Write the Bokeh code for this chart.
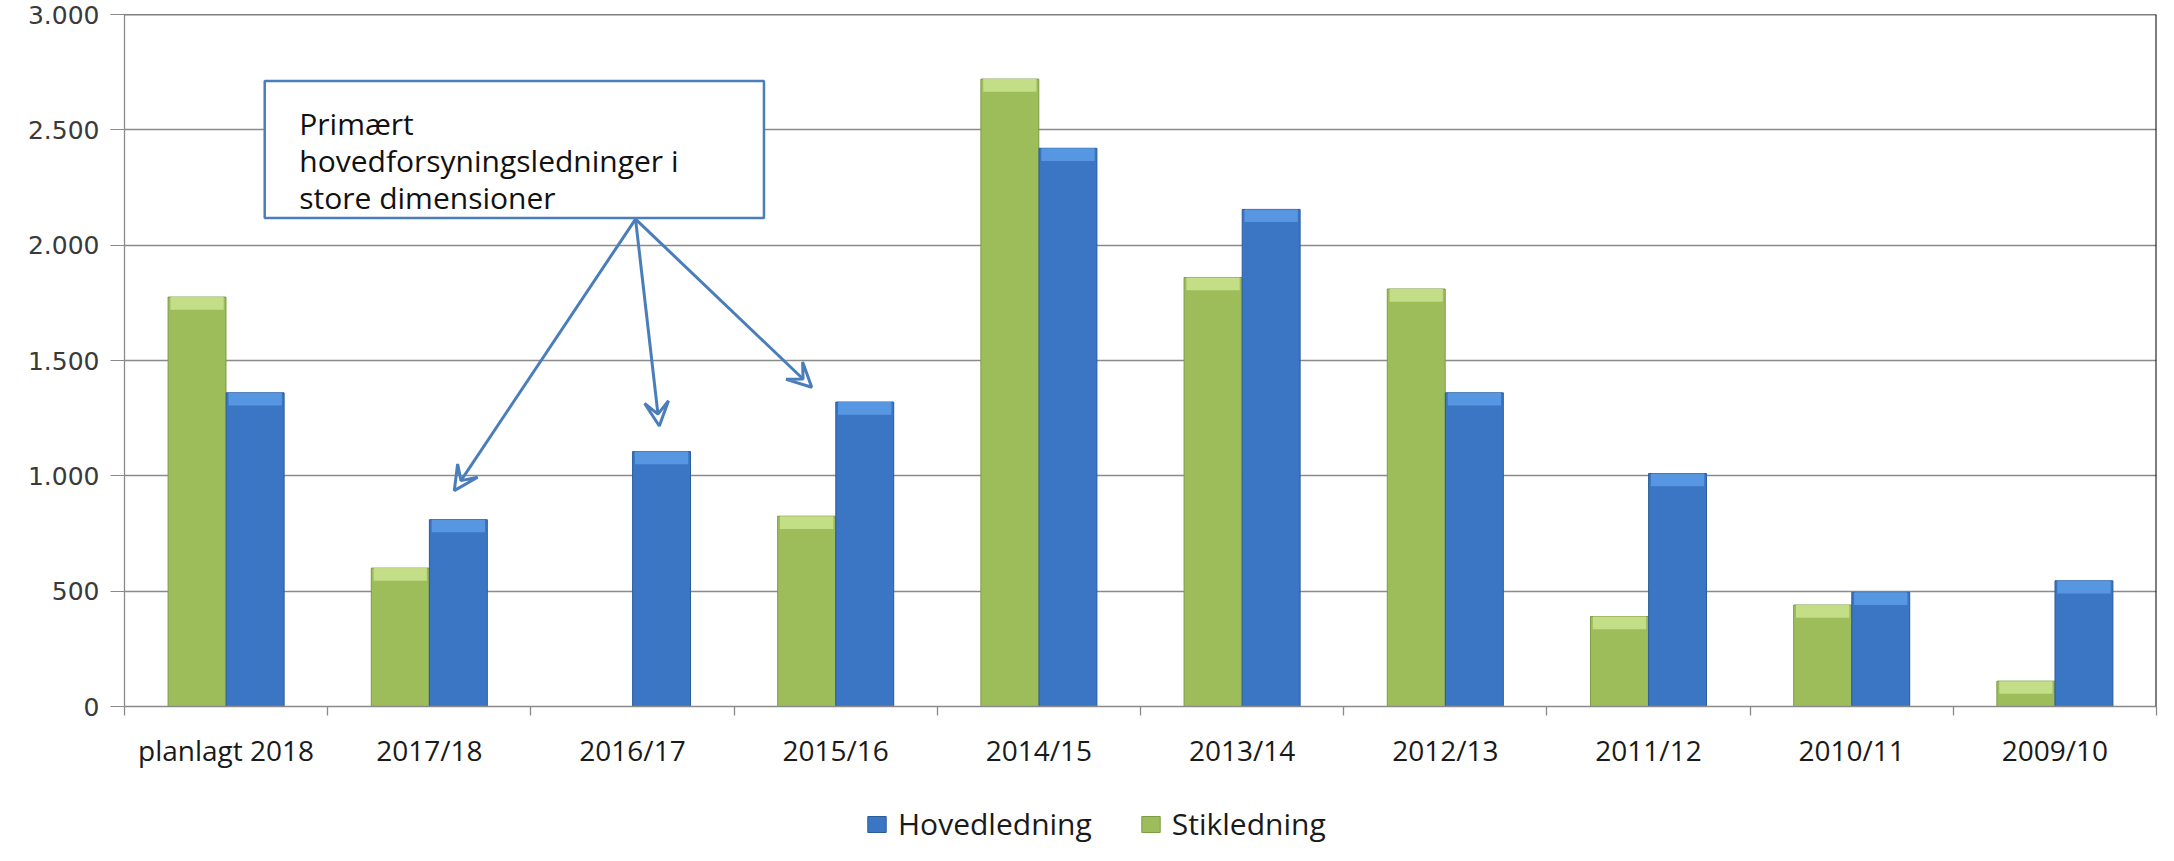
from bokeh.plotting import figure
from bokeh.layouts import column
from bokeh.models import (Range1d, FixedTicker, CustomJSTickFormatter, BoxAnnotation,
                          Label, Arrow, VeeHead, Span, Legend, LegendItem, ColumnDataSource)
from bokeh.embed import file_html
from bokeh.resources import INLINE

categories = ["planlagt 2018", "2017/18", "2016/17", "2015/16", "2014/15",
              "2013/14", "2012/13", "2011/12", "2010/11", "2009/10"]
hovedledning = [1360, 810, 1105, 1320, 2420, 2155, 1360, 1010, 495, 545]
stikledning = [1775, 600, 0, 825, 2720, 1860, 1810, 390, 440, 110]
y_ticks = [0, 500, 1000, 1500, 2000, 2500, 3000]
note_lines = ["Primært", "hovedforsyningsledninger  i", "store dimensioner"]
series_names = ["Hovedledning", "Stikledning"]

BLUE = "#3a76c4"
BLUE_TOP = "#5b9be6"
BLUE_EDGE = "#2b5b98"
GREEN = "#9dbd5b"
GREEN_TOP = "#c9e08c"
GREEN_EDGE = "#7d9a45"
NOTE_BLUE = "#4a7ebb"
GRID = "#8a8a8a"
FONT = "Open Sans"

W = 2158
H_MAIN = 792
H_LEG = 845 - H_MAIN

p = figure(width=W, height=H_MAIN, x_range=Range1d(0, 10), y_range=Range1d(0, 3000),
           output_backend="svg", toolbar_location=None,
           min_border_left=124, min_border_right=2, min_border_top=14,
           min_border_bottom=H_MAIN - 706)
p.outline_line_color = None
p.background_fill_color = "white"
p.border_fill_color = "white"

# bars
bevel = 55
def bar_source(vals, offset):
    xs, tops, bevel_bottoms = [], [], []
    for i, v in enumerate(vals):
        if v > 0:
            xs.append(i + 0.5 + offset)
            tops.append(v)
            bevel_bottoms.append(max(v - bevel, 0))
    return ColumnDataSource(dict(x=xs, top=tops, bb=bevel_bottoms))

w = 0.285
src_g = bar_source(stikledning, -0.143)
src_b = bar_source(hovedledning, 0.143)
p.vbar(x="x", top="top", bottom=0, width=w, source=src_g,
       fill_color=GREEN, line_color=GREEN_EDGE, line_width=1)
p.vbar(x="x", top="top", bottom="bb", width=w * 0.92, source=src_g,
       fill_color=GREEN_TOP, line_color=None, fill_alpha=0.9)
p.vbar(x="x", top="top", bottom=0, width=w, source=src_b,
       fill_color=BLUE, line_color=BLUE_EDGE, line_width=1)
p.vbar(x="x", top="top", bottom="bb", width=w * 0.92, source=src_b,
       fill_color=BLUE_TOP, line_color=None, fill_alpha=0.9)

# x axis
xax = p.xaxis[0]
xax.ticker = FixedTicker(ticks=[i + 0.5 for i in range(len(categories))],
                         minor_ticks=list(range(len(categories) + 1)))
xax.formatter = CustomJSTickFormatter(args=dict(labels=categories),
                                      code="return labels[Math.floor(tick)] || '';")
xax.major_tick_out = 0
xax.major_tick_in = 0
xax.major_tick_line_color = None
xax.minor_tick_out = 9
xax.minor_tick_in = 0
xax.minor_tick_line_color = GRID
xax.minor_tick_line_width = 1.3
xax.axis_line_color = GRID
xax.axis_line_width = 1.3
xax.major_label_text_font = FONT
xax.major_label_text_font_size = "28px"
xax.major_label_text_color = "#1a1a1a"
xax.major_label_standoff = 15

# y axis
yax = p.yaxis[0]
yax.ticker = FixedTicker(ticks=y_ticks)
yax.formatter = CustomJSTickFormatter(code="""
  if (tick >= 1000) { return Math.floor(tick/1000) + '.' + String(tick % 1000).padStart(3, '0'); }
  return String(tick);""")
yax.major_tick_out = 14
yax.major_tick_in = 0
yax.minor_tick_line_color = None
yax.major_tick_line_color = GRID
yax.axis_line_color = GRID
yax.axis_line_width = 1.3
yax.major_label_text_font = "DejaVu Sans"
yax.major_label_text_font_size = "25px"
yax.major_label_text_color = "#3a3a3a"
yax.major_label_standoff = 11

p.xgrid.visible = False
p.ygrid.ticker = FixedTicker(ticks=y_ticks)
p.ygrid.grid_line_color = GRID
p.ygrid.grid_line_width = 1.3

# top and right border
p.add_layout(Span(location=3000, dimension="width", line_color="black", line_width=1.5))
p.add_layout(Span(location=10, dimension="height", line_color="black", line_width=2))

# annotation box
p.add_layout(BoxAnnotation(left=0.69, right=3.147, bottom=2118, top=2712,
                           fill_color="white", fill_alpha=1.0,
                           line_color=NOTE_BLUE, line_alpha=1.0, line_width=2.5))
for txt, yb in zip(note_lines, [2528, 2367, 2207]):
    p.add_layout(Label(x=0.86, y=yb, text=txt, text_font=FONT, text_font_size="30px",
                       text_color="#111111", text_baseline="alphabetic", text_align="left"))

x0, y0 = 2.515, 2113
for xe, ye in [(1.623, 936), (2.632, 1216), (3.382, 1384)]:
    p.add_layout(Arrow(x_start=x0, y_start=y0, x_end=xe, y_end=ye,
                       line_color=NOTE_BLUE, line_width=3,
                       end=VeeHead(size=24, line_color=NOTE_BLUE, line_width=3,
                                   fill_color=None)))

# legend strip underneath (proxy glyphs sit outside the visible range)
q = figure(width=W, height=H_LEG, x_range=Range1d(0, 1), y_range=Range1d(0, 1),
           output_backend="svg", toolbar_location=None, x_axis_type=None, y_axis_type=None,
           min_border=0)
q.outline_line_color = None
q.xgrid.visible = False
q.ygrid.visible = False
proxy = ColumnDataSource(dict(x=[-5.0], top=[-5.0]))
lb = q.vbar(x="x", top="top", bottom=-5.0, width=0.1, source=proxy,
            fill_color=BLUE, line_color=BLUE_EDGE, line_width=1)
lg = q.vbar(x="x", top="top", bottom=-5.0, width=0.1, source=proxy,
            fill_color=GREEN, line_color=GREEN_EDGE, line_width=1)
legend = Legend(items=[LegendItem(label=series_names[0], renderers=[lb]),
                       LegendItem(label=series_names[1], renderers=[lg])],
                location=(741, 1), orientation="horizontal", margin=0, padding=0,
                spacing=47, border_line_color=None, background_fill_alpha=0,
                label_text_font=FONT, label_text_font_size="30px",
                label_text_color="#1a1a1a", glyph_width=23, glyph_height=20,
                label_standoff=10)
q.add_layout(legend)

open("out.html", "w").write(file_html(column(p, q, spacing=0), INLINE))
